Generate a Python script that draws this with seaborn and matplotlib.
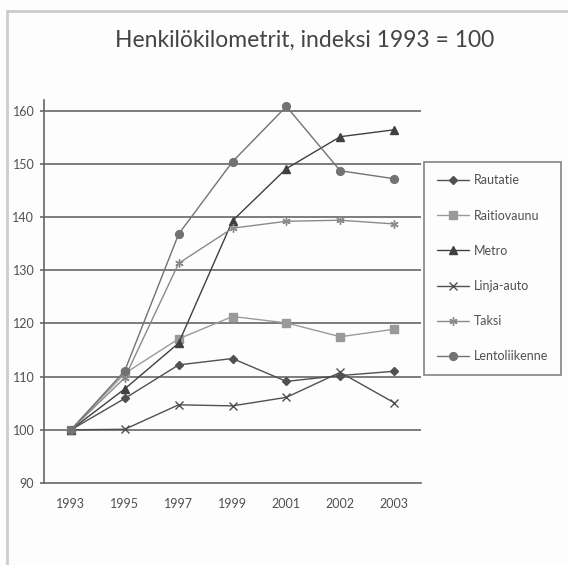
import seaborn as sns
import matplotlib.pyplot as plt
import pandas as pd
from matplotlib.lines import Line2D

years = ["1993", "1995", "1997", "1999", "2001", "2002", "2003"]
rautatie = [100, 105.9, 112.2, 113.4, 109.1, 110.2, 111.0]
raitiovaunu = [100, 110.6, 117.1, 121.3, 120.1, 117.5, 118.9]
metro = [100, 107.7, 116.3, 139.3, 149.1, 155.1, 156.4]
linja_auto = [100, 100.1, 104.7, 104.5, 106.1, 110.8, 105.1]
taksi = [100, 109.8, 131.3, 137.9, 139.2, 139.4, 138.7]
lentoliikenne = [100, 111.1, 136.8, 150.4, 160.8, 148.7, 147.2]

series = ["Rautatie", "Raitiovaunu", "Metro", "Linja-auto", "Taksi", "Lentoliikenne"]
values = [rautatie, raitiovaunu, metro, linja_auto, taksi, lentoliikenne]

rows = []
for name, vals in zip(series, values):
    for y, v in zip(years, vals):
        rows.append({"year": y, "value": v, "series": name})
df = pd.DataFrame(rows)

sns.set_style("white")
plt.rcParams['font.family'] = ['Lato', 'DejaVu Sans']

colors = {"Rautatie": "#505050", "Raitiovaunu": "#9a9a9a", "Metro": "#404040",
          "Linja-auto": "#505050", "Taksi": "#8a8a8a", "Lentoliikenne": "#727272"}
markers = {"Rautatie": "D", "Raitiovaunu": "s", "Metro": "^",
           "Linja-auto": "x", "Taksi": (6, 2, 0), "Lentoliikenne": "o"}
sizes = {"Rautatie": 4.3, "Raitiovaunu": 5.2, "Metro": 5.6,
         "Linja-auto": 5.5, "Taksi": 6, "Lentoliikenne": 5.6}

fig = plt.figure(figsize=(5.68, 5.65), dpi=100)
fig.patch.set_facecolor("#fdfdfd")
ax = fig.add_axes([44 / 568, 1 - 483 / 565, (421 - 44) / 568, (483 - 100) / 565])
ax.set_facecolor("#fdfdfd")

for name in series:
    sub = df[df["series"] == name]
    sns.lineplot(data=sub, x="year", y="value", ax=ax, color=colors[name],
                 marker=markers[name], markersize=sizes[name], markeredgewidth=1.0,
                 markeredgecolor=colors[name], linewidth=1.0, label=name, sort=False)

ax.set_xlim(-0.5, len(years) - 0.5)
ax.set_ylim(90, 162)
ax.set_yticks(range(90, 161, 10))
ax.set_xlabel("")
ax.set_ylabel("")
for v in range(100, 161, 10):
    ax.axhline(v, color="#666666", lw=1.2, zorder=0)

ax.set_xticks([i - 0.5 for i in range(len(years) + 1)], minor=True)
ax.tick_params(axis="x", which="major", length=0, pad=11, labelsize=9, labelcolor="#505050")
ax.tick_params(axis="x", which="minor", length=4, width=1.2, color="#666666", direction="out")
ax.tick_params(axis="y", length=3, width=1.2, color="#666666", direction="out",
               pad=4, labelsize=9, labelcolor="#505050", left=True)
sns.despine(ax=ax)
for s in ["left", "bottom"]:
    ax.spines[s].set_color("#666666")
    ax.spines[s].set_linewidth(1.2)

handles, labels = ax.get_legend_handles_labels()
leg = ax.legend(handles, labels, loc="upper left", bbox_to_anchor=(424 / 568, 1 - 162 / 565),
                bbox_transform=fig.transFigure, borderaxespad=0, fontsize=9,
                labelspacing=1.85, handlelength=2.6, handletextpad=0.4,
                borderpad=1.0, fancybox=False, frameon=True)
leg.get_frame().set_edgecolor("#666666")
leg.get_frame().set_linewidth(1.2)
leg.get_frame().set_facecolor("#fdfdfd")
for t in leg.get_texts():
    t.set_color("#505050")

fig.text(0.537, 1 - 40 / 565, "Henkilökilometrit, indeksi 1993 = 100",
         ha="center", va="center", fontsize=16.5, color="#444444")

fig.add_artist(Line2D([7 / 568, 1], [1 - 11 / 565, 1 - 11 / 565],
                      transform=fig.transFigure, color="#cccccc", lw=2))
fig.add_artist(Line2D([7 / 568, 7 / 568], [0, 1 - 11 / 565],
                      transform=fig.transFigure, color="#cccccc", lw=2))

fig.savefig("out.png", dpi=100, facecolor=fig.get_facecolor())
